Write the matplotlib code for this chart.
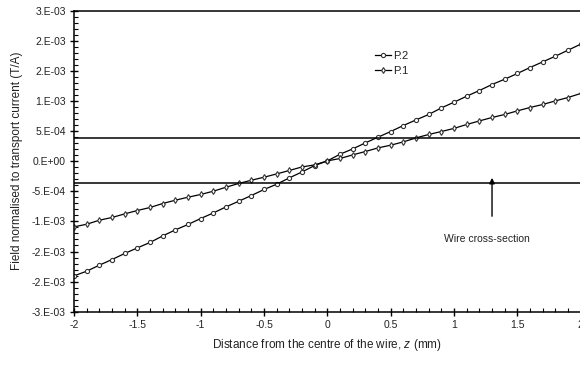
import numpy as np
import matplotlib.pyplot as plt
from matplotlib.ticker import MultipleLocator

plt.rcParams['font.family'] = 'Liberation Sans'
plt.rcParams['mathtext.fontset'] = 'custom'
plt.rcParams['mathtext.it'] = 'Liberation Sans:italic'
plt.rcParams['mathtext.rm'] = 'Liberation Sans'

# distance from wire centre (mm)
z = [-2.0, -1.9, -1.8, -1.7, -1.6, -1.5, -1.4, -1.3, -1.2, -1.1,
     -1.0, -0.9, -0.8, -0.7, -0.6, -0.5, -0.4, -0.3, -0.2, -0.1,
     0.0, 0.1, 0.2, 0.3, 0.4, 0.5, 0.6, 0.7, 0.8, 0.9,
     1.0, 1.1, 1.2, 1.3, 1.4, 1.5, 1.6, 1.7, 1.8, 1.9, 2.0]

# field normalised to transport current, in units of 1E-3 T/A
p2 = [-1.905, -1.827, -1.727, -1.633, -1.533, -1.440, -1.350, -1.241, -1.141, -1.051,
      -0.952, -0.859, -0.759, -0.665, -0.570, -0.470, -0.382, -0.277, -0.178, -0.072,
      0.005, 0.116, 0.204, 0.304, 0.399, 0.493, 0.593, 0.686, 0.776, 0.885,
      0.980, 1.080, 1.174, 1.274, 1.362, 1.457, 1.556, 1.650, 1.744, 1.844, 1.944]
p1 = [-1.091, -1.047, -0.980, -0.935, -0.875, -0.819, -0.769, -0.703, -0.648, -0.598,
      -0.553, -0.498, -0.432, -0.370, -0.316, -0.266, -0.211, -0.154, -0.095, -0.061,
      0.005, 0.045, 0.105, 0.161, 0.221, 0.266, 0.321, 0.387, 0.444, 0.493,
      0.545, 0.610, 0.669, 0.726, 0.776, 0.836, 0.892, 0.942, 1.002, 1.058, 1.125]

# wire cross-section boundaries (T/A)
wire_top = 3.8e-4
wire_bottom = -3.65e-4

yticks = [-2.5e-3, -2.0e-3, -1.5e-3, -1.0e-3, -5e-4, 0.0, 5e-4, 1.0e-3, 1.5e-3, 2.0e-3, 2.5e-3]
ytick_labels = ['-3.E-03', '-2.E-03', '-2.E-03', '-1.E-03', '-5.E-04', '0.E+00',
                '5.E-04', '1.E-03', '2.E-03', '2.E-03', '3.E-03']
xticks = [-2, -1.5, -1, -0.5, 0, 0.5, 1, 1.5, 2]
xtick_labels = ['-2', '-1.5', '-1', '-0.5', '0', '0.5', '1', '1.5', '2']

txt = '#222222'

fig = plt.figure(figsize=(5.8, 3.65), dpi=100)
ax = fig.add_axes([0.1276, 0.146, 0.8736, 0.8247])

zz = np.array(z)
ax.plot(zz, np.array(p2) * 1e-3, color='black', lw=0.9, marker='o', ms=3.0,
        mfc='white', mec='#333333', mew=0.8, label='P.2')
ax.plot(zz, np.array(p1) * 1e-3, color='black', lw=0.9, marker='d', ms=3.0,
        mfc='white', mec='#333333', mew=0.8, label='P.1')

ax.axhline(wire_top, color='black', lw=1.1)
ax.axhline(wire_bottom, color='black', lw=1.1)

ax.annotate('', xy=(1.3, -0.23e-3), xytext=(1.3, -0.96e-3),
            arrowprops=dict(arrowstyle='-|>', color='black', lw=1.0, mutation_scale=8))
ax.text(1.26, -1.30e-3, 'Wire cross-section', ha='center', va='center',
        fontsize=7.5, color=txt)

ax.set_xlim(-2, 2)
ax.set_ylim(-2.5e-3, 2.5e-3)
ax.set_xticks(xticks)
ax.set_xticklabels(xtick_labels)
ax.set_yticks(yticks)
ax.set_yticklabels(ytick_labels)
ax.xaxis.set_minor_locator(MultipleLocator(0.1))
ax.yaxis.set_minor_locator(MultipleLocator(1e-4))
ax.tick_params(which='major', direction='inout', length=6, width=1, labelsize=7.5,
               pad=3, labelcolor=txt)
ax.tick_params(which='minor', direction='in', length=3, width=0.8)
ax.spines['right'].set_visible(False)
for s in ['left', 'top', 'bottom']:
    ax.spines[s].set_linewidth(1.1)

ax.set_xlabel('Distance from the centre of the wire, $z$ (mm)', fontsize=8.5,
              labelpad=5, color=txt)
ax.set_ylabel('Field normalised to transport current (T/A)', fontsize=8.5,
              labelpad=6, color=txt)

leg = ax.legend(loc='upper left', bbox_to_anchor=(0.575, 0.9), frameon=False, fontsize=8,
                handlelength=1.4, handletextpad=0.2, labelspacing=0.5)
for t in leg.get_texts():
    t.set_color(txt)

fig.savefig('out.png', dpi=100)
